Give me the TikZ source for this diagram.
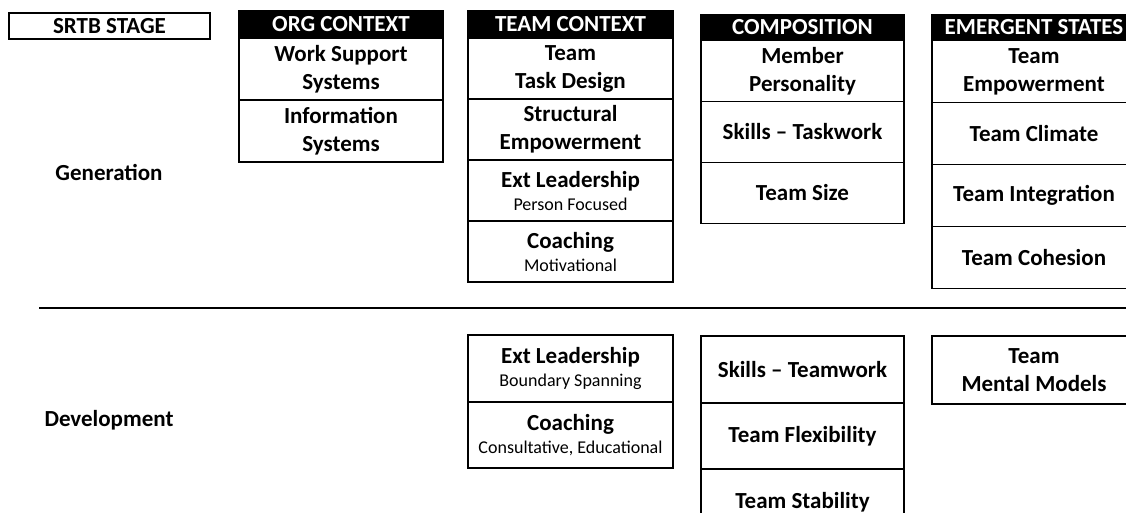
\documentclass[tikz,border=0pt]{standalone}
\usepackage{fontspec}
\setmainfont{Carlito}
\usetikzlibrary{positioning}
\newcommand{\bigtxt}{\fontsize{23}{28}\selectfont\bfseries}
\newcommand{\smalltxt}{\fontsize{18}{20}\selectfont\mdseries}

\begin{document}
\begin{tikzpicture}[x=1pt,y=-1pt,line width=1.6pt,
        hd/.style={draw, fill=black, text=white, font=\bigtxt, minimum width=204pt,
                minimum height=26pt, inner sep=0pt, outer sep=0pt},
        cell/.style={draw, font=\bigtxt, align=center, minimum width=204pt,
                minimum height=61pt, inner sep=1pt, outer sep=0pt},
        stage/.style={font=\bigtxt}]
        \useasboundingbox (0,0) rectangle (1126,513);
        \clip (0,0) rectangle (1126,513);
        % stages
        \node[draw, font=\bigtxt, minimum width=201pt, minimum height=26pt, inner sep=0pt] (srtb) at (109.5,26) {SRTB STAGE};
        \node[stage] (gen) at (109,172) {Generation};
        \node[stage] (dev) at (109,420) {Development};
        \coordinate (sepl) at (39,308);
        \coordinate (sepr) at (1126,308);
        \draw (sepl) -- (sepr);
        % org context
        \node[hd, minimum height=27pt] (org) at (341,24.5) {ORG CONTEXT};
        \node[cell, minimum height=62pt, below=0pt of org] (org1) {Work Support\\Systems};
        \node[cell, minimum height=62pt, below=0pt of org1] (org2) {Information\\Systems};
        % team context
        \node[hd, minimum height=27pt, minimum width=205pt] (team) at (570.5,24.5) {TEAM CONTEXT};
        \node[cell, minimum width=205pt, below=0pt of team] (team1) {Team\\Task Design};
        \node[cell, minimum width=205pt, below=0pt of team1] (team2) {Structural\\Empowerment};
        \node[cell, minimum width=205pt, below=0pt of team2] (team3) {Ext Leadership\\[-5pt]{\smalltxt Person Focused}};
        \node[cell, minimum width=205pt, below=0pt of team3] (team4) {Coaching\\[-5pt]{\smalltxt Motivational}};
        \node[cell, minimum width=205pt, minimum height=67pt] (team5) at (570.5,368.5) {Ext Leadership\\[-5pt]{\smalltxt Boundary Spanning}};
        \node[cell, minimum width=205pt, minimum height=66pt, below=0pt of team5] (team6) {Coaching\\[-5pt]{\smalltxt Consultative, Educational}};
        % composition
        \node[hd, minimum width=203pt] (comp) at (802.5,27.5) {COMPOSITION};
        \node[cell, minimum width=203pt, below=0pt of comp] (comp1) {Member\\Personality};
        \node[cell, minimum width=203pt, below=0pt of comp1] (comp2) {Skills -- Taskwork};
        \node[cell, minimum width=203pt, below=0pt of comp2] (comp3) {Team Size};
        \node[cell, minimum width=203pt, minimum height=67pt] (comp4) at (802.5,369.5) {Skills -- Teamwork};
        \node[cell, minimum width=203pt, minimum height=66pt, below=0pt of comp4] (comp5) {Team Flexibility};
        \node[cell, minimum width=203pt, minimum height=66pt, below=0pt of comp5] (comp6) {Team Stability};
        % emergent states
        \node[hd] (emer) at (1034,27.5) {EMERGENT STATES};
        \node[cell, minimum height=62pt, below=0pt of emer] (emer1) {Team\\Empowerment};
        \node[cell, minimum height=62pt, below=0pt of emer1] (emer2) {Team Climate};
        \node[cell, minimum height=62pt, below=0pt of emer2] (emer3) {Team Integration};
        \node[cell, minimum height=62pt, below=0pt of emer3] (emer4) {Team Cohesion};
        \node[cell, minimum height=68pt] (emer5) at (1034,370) {Team\\Mental Models};
\end{tikzpicture}
\end{document}
